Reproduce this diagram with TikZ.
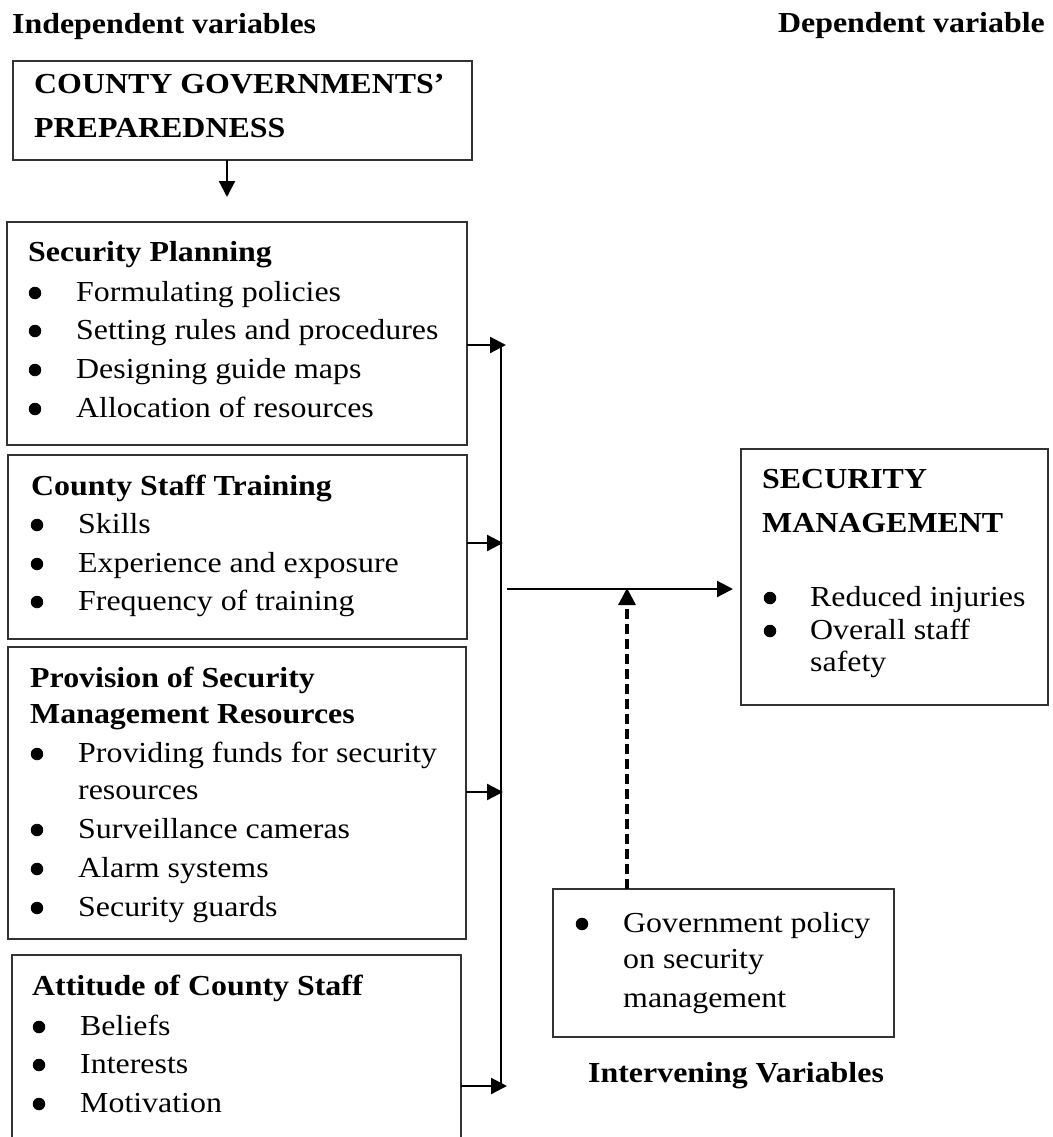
\documentclass[tikz,border=0pt]{standalone}
\usepackage{fontspec}
\setmainfont{Liberation Serif}[FakeStretch=1.1]
\usetikzlibrary{arrows.meta}
\tikzset{
  box/.style={draw=black!80, line width=1.3pt, anchor=north west, inner sep=0pt, outer sep=0pt},
  txt/.style={anchor=base west, inner sep=0pt, font=\fontsize{29}{39}\selectfont},
  hd/.style={txt, font=\fontsize{29}{39}\selectfont\bfseries},
  bul/.style={circle, fill=black, minimum size=12.5pt, inner sep=0pt},
  arr/.style={line width=2.2pt, -{Triangle[length=16pt,width=16pt]}},
  dasharr/.style={line width=3.2pt, dash pattern=on 10pt off 5pt, -{Triangle[length=17pt,width=17pt]}},
  bus/.style={line width=1.7pt}
}
\begin{document}
\begin{tikzpicture}[x=1pt,y=-1pt]
\useasboundingbox (0,0) rectangle (1052,1137);
\fill[white] (0,0) rectangle (1052,1137);
\clip (0,0) rectangle (1052,1137);

% headers
\node[hd] (hindep) at (12,34) {Independent variables};
\node[hd, anchor=base east] (hdep) at (1045,33) {Dependent variable};

% County governments' preparedness
\node[box, minimum width=459pt, minimum height=99pt] (b1) at (13,61) {};
\node[hd] (b1t1) at (34,94) {COUNTY GOVERNMENTS’};
\node[hd] (b1t2) at (34,138) {PREPAREDNESS};

% Security Planning
\node[box, minimum width=460pt, minimum height=223pt] (b2) at (7,222) {};
\node[hd] (b2t) at (28,261) {Security Planning};
\node[bul] (b2b1) at (35,293) {}; \node[txt] (b2x1) at (76,301) {Formulating policies};
\node[bul] (b2b2) at (35,331) {}; \node[txt] (b2x2) at (76,339) {Setting rules and procedures};
\node[bul] (b2b3) at (35,370) {}; \node[txt] (b2x3) at (76,378) {Designing guide maps};
\node[bul] (b2b4) at (35,409) {}; \node[txt] (b2x4) at (76,417) {Allocation of resources};

% County Staff Training
\node[box, minimum width=459pt, minimum height=184pt] (b3) at (8,455) {};
\node[hd] (b3t) at (31,495) {County Staff Training};
\node[bul] (b3b1) at (37,525) {}; \node[txt] (b3x1) at (78,533) {Skills};
\node[bul] (b3b2) at (37,564) {}; \node[txt] (b3x2) at (78,572) {Experience and exposure};
\node[bul] (b3b3) at (37,602) {}; \node[txt] (b3x3) at (78,610) {Frequency of training};

% Provision of Security Management Resources
\node[box, minimum width=458pt, minimum height=292pt] (b4) at (8,647) {};
\node[hd] (b4t1) at (30,687) {Provision of Security};
\node[hd] (b4t2) at (30,723) {Management Resources};
\node[bul] (b4b1) at (37,754) {}; \node[txt] (b4x1) at (78,762) {Providing funds for security};
\node[txt] (b4x1b) at (78,799) {resources};
\node[bul] (b4b2) at (37,830) {}; \node[txt] (b4x2) at (78,838) {Surveillance cameras};
\node[bul] (b4b3) at (37,869) {}; \node[txt] (b4x3) at (78,877) {Alarm systems};
\node[bul] (b4b4) at (37,908) {}; \node[txt] (b4x4) at (78,916) {Security guards};

% Attitude of County Staff
\node[box, minimum width=449pt, minimum height=250pt] (b5) at (12,955) {};
\node[hd] (b5t) at (32,995) {Attitude of County Staff};
\node[bul] (b5b1) at (39,1027) {}; \node[txt] (b5x1) at (80,1035) {Beliefs};
\node[bul] (b5b2) at (39,1065) {}; \node[txt] (b5x2) at (80,1073) {Interests};
\node[bul] (b5b3) at (39,1104) {}; \node[txt] (b5x3) at (80,1112) {Motivation};

% Security Management
\node[box, minimum width=307pt, minimum height=256pt] (sm) at (741,449) {};
\node[hd] (smt1) at (762,488) {SECURITY};
\node[hd] (smt2) at (762,532) {MANAGEMENT};
\node[bul] (smb1) at (770,598) {}; \node[txt] (smx1) at (810,606) {Reduced injuries};
\node[bul] (smb2) at (770,631) {}; \node[txt] (smx2) at (810,639) {Overall staff};
\node[txt] (smx2b) at (810,671) {safety};

% Intervening variable
\node[box, minimum width=341pt, minimum height=148pt] (iv) at (553,889) {};
\node[bul] (ivb1) at (582,924) {}; \node[txt] (ivx1) at (623,932) {Government policy};
\node[txt] (ivx2) at (623,968) {on security};
\node[txt] (ivx3) at (623,1007) {management};
\node[hd] (ivlab) at (588,1082) {Intervening Variables};

% connectors
\coordinate (t1) at (227,197);
\draw[arr] (b1.south -| t1) -- (t1);

\coordinate (bustop) at (501,345);
\coordinate (busbot) at (501,1086);
\draw[bus] (bustop) -- (busbot);

\coordinate (a2) at (506,345);
\coordinate (a3) at (503,543);
\coordinate (a4) at (503,792);
\coordinate (a5) at (507,1086);
\draw[arr] (b2.east |- a2) -- (a2);
\draw[arr] (b3.east |- a3) -- (a3);
\draw[arr] (b4.east |- a4) -- (a4);
\draw[arr] (b5.east |- a5) -- (a5);

\coordinate (outstart) at (507,589);
\coordinate (outend) at (733,589);
\draw[arr] (outstart) -- (outend);

\coordinate (dtop) at (627,588);
\draw[dasharr] (iv.north -| dtop) -- (dtop);
\end{tikzpicture}
\end{document}
